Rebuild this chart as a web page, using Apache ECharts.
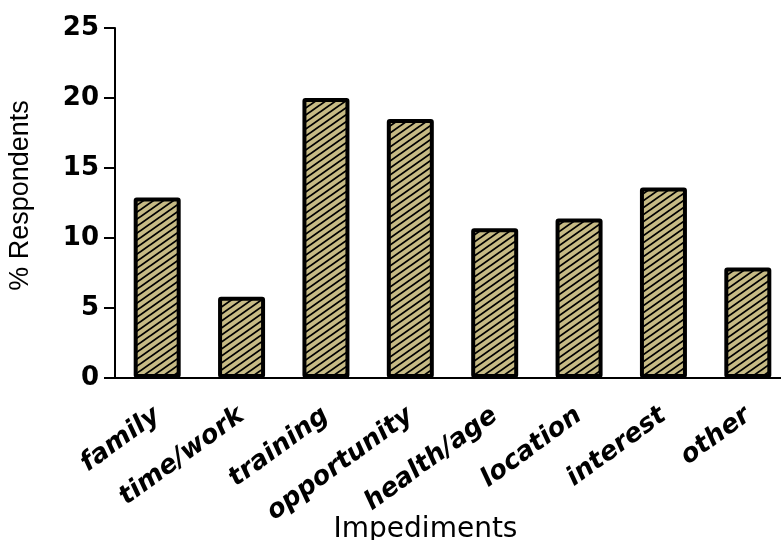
<!DOCTYPE html>
<html><head><meta charset="utf-8">
<script src="https://cdn.jsdelivr.net/npm/echarts@6/dist/echarts.min.js"></script>
<style>html,body{margin:0;padding:0;background:#fff}#c{width:781px;height:540px}</style>
</head><body><div id="c"></div>
<script>
const categories = ['family','time/work','training','opportunity','health/age','location','interest','other'];
const values = [12.9, 5.8, 20.0, 18.5, 10.7, 11.4, 13.6, 7.9];
const yTicks = [0, 5, 10, 15, 20, 25];

function hatch(){
  const w = 10, h = 7;
  const c = document.createElement('canvas');
  c.width = w; c.height = h;
  const g = c.getContext('2d');
  g.fillStyle = '#c6ba84';
  g.fillRect(0,0,w,h);
  g.strokeStyle = '#000';
  g.lineWidth = 1.8;
  g.beginPath();
  for (let k = -1; k <= 1; k++) {
    g.moveTo(-w + k*w, h*2); g.lineTo(w*2 + k*w, -h);
  }
  g.stroke();
  return c;
}

const chart = echarts.init(document.getElementById('c'), null, {renderer:'canvas'});
chart.setOption({
  animation:false,
  backgroundColor:'#fff',
  grid:{left:115, right:-9, top:28, bottom:162, containLabel:false, outerBoundsMode:'none'},
  xAxis:{
    type:'category', data:categories,
    axisLine:{lineStyle:{color:'#000', width:2}},
    axisTick:{alignWithLabel:true, length:10, lineStyle:{color:'#000', width:2}},
    axisLabel:{rotate:36, margin:35, color:'#000', fontFamily:'DejaVu Sans', fontWeight:'bold', fontStyle:'italic', fontSize:26, interval:0},
    name:'Impediments', nameLocation:'middle', nameGap:138, nameMoveOverlap:false,
    nameTextStyle:{color:'#000', fontFamily:'DejaVu Sans', fontSize:28, padding:[0,54,0,0]}
  },
  yAxis:{
    type:'value', min:0, max:25, interval:5,
    axisLine:{show:true, lineStyle:{color:'#000', width:2}},
    axisTick:{show:true, length:11, lineStyle:{color:'#000', width:2}},
    splitLine:{show:false},
    axisLabel:{margin:16, color:'#000', fontFamily:'DejaVu Sans', fontWeight:'bold', fontSize:26,
      formatter:function(v){return yTicks.indexOf(v)>=0 ? String(v) : '';}},
    name:'% Respondents', nameLocation:'middle', nameGap:81, nameMoveOverlap:false,
    nameTextStyle:{color:'#000', fontFamily:'Liberation Sans, Arial', fontSize:27, padding:[0,0,0,15]}
  },
  series:[{
    type:'bar', data:values, barWidth:47,
    itemStyle:{color:{image:hatch(), repeat:'repeat'}, borderColor:'#000', borderWidth:4, borderRadius:1}
  }]
});
</script></body></html>
